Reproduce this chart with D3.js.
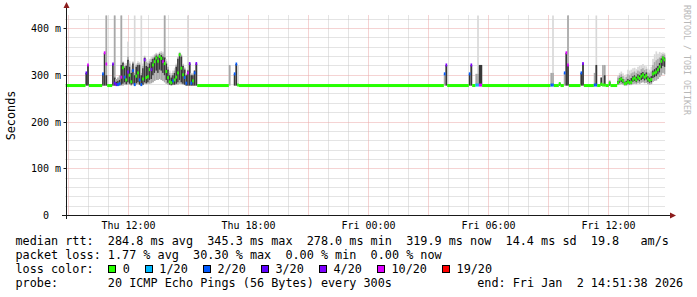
<!DOCTYPE html>
<html>
<head>
<meta charset="utf-8">
<script src="https://cdn.jsdelivr.net/npm/d3@7"></script>
<style>
  body { margin: 0; background: #fff; }
  svg { display: block; }
  text { font-family: "DejaVu Sans Mono", monospace; white-space: pre; }
</style>
</head>
<body>
<svg id="chart" width="697" height="297"></svg>
<script>
// smokeping style latency graph: last 30 hours, 5 minute steps

const endTime = new Date(2026, 0, 2, 14, 51, 38);
const spanHours = 30;
const stepMinutes = 5;

// each run starts at a step index and lasts until the next run
const runStart = [0, 12, 13, 14, 22, 23, 24, 25, 28, 29,
  30, 31, 32, 33, 34, 35, 36, 37, 38, 39,
  40, 41, 42, 43, 44, 45, 46, 47, 48, 49,
  50, 51, 52, 53, 54, 55, 56, 57, 58, 59,
  60, 61, 62, 63, 64, 65, 66, 67, 68, 69,
  70, 71, 72, 73, 74, 75, 76, 77, 78, 79,
  98, 99, 101, 102, 103, 104, 227, 228, 229, 242,
  243, 244, 246, 247, 248, 250, 291, 292, 293, 296,
  297, 299, 300, 301, 302, 309, 310, 311, 317, 318,
  319, 321, 322, 323, 324, 326, 327, 331, 332, 333,
  334, 335, 336, 337, 338, 339, 340, 341, 342, 343,
  344, 345, 346, 347, 348, 349, 350, 351, 352, 353,
  354, 355, 356, 357, 358, 359];

// median rtt in ms
const medianMs = [278, 305, 322, 278, 303, 348, 324, 278, 324, 283,
  280, 280, 282, 296, 316, 296, 290, 307, 300, 286,
  310, 280, 298, 305, 290, 280, 292, 333, 295, 297,
  312, 312, 322, 329, 337, 330, 340, 336, 329, 325,
  308, 295, 286, 284, 288, 290, 296, 305, 344, 315,
  301, 295, 283, 305, 325, 283, 288, 305, 325, 278,
  null, null, 303, 324, 279, 278, 303, 322, 278, 303,
  322, 278, 279, 279, 279, 278, 279, 279, 278, 282,
  278, 305, 348, 322, 278, 305, 325, 278, 279, 279,
  278, 281, 279, 279, 278, 283, 278, 284, 290, 292,
  288, 282, 283, 286, 284, 285, 292, 294, 290, 296,
  293, 298, 301, 296, 299, 292, 289, 291, 303, 305,
  307, 312, 318, 330, 337, 333];

// lost pings out of 20
const lossCount = [0, 3, 10, 0, 2, 10, 10, 0, 4, 3,
  3, 2, 2, 10, 0, 2, 0, 4, 0, 0,
  2, 2, 0, 0, 2, 2, 0, 4, 0, 0,
  0, 4, 0, 0, 0, 0, 0, 0, 10, 0,
  0, 0, 0, 0, 2, 0, 0, 0, 0, 0,
  0, 2, 2, 10, 4, 2, 0, 2, 4, 0,
  0, 0, 2, 2, 0, 0, 2, 4, 0, 2,
  4, 0, 1, 1, 10, 0, 2, 2, 0, 0,
  0, 2, 10, 10, 0, 2, 4, 0, 2, 2,
  0, 0, 0, 0, 0, 0, 0, 0, 0, 0,
  0, 0, 0, 0, 0, 0, 0, 0, 0, 0,
  0, 0, 0, 0, 0, 0, 0, 0, 0, 0,
  0, 0, 0, 0, 0, 0];

// spread of the 20 pings (ms): min, 25th, 75th, 90th percentile, max
const pingMin = [null, 278, 278, null, 278, 278, 278, null, 278, 278,
  277, 277, 277, 278, 278, 280, 279, 280, 280, 278,
  280, 278, 280, 281, 279, 278, 279, 282, 281, 282,
  282, 283, 285, 288, 290, 290, 292, 290, 288, 285,
  282, 280, 279, 278, 279, 279, 280, 280, 282, 281,
  280, 279, 278, 278, 278, 278, 278, 278, 278, null,
  278, null, 278, 278, 278, null, 278, 278, null, 278,
  278, null, 278, 278, 278, null, 278, 278, null, 278,
  null, 278, 278, 278, null, 278, 278, null, 278, 278,
  null, 278, 278, 278, null, 278, null, 279, 280, 281,
  280, 278, 278, 279, 279, 279, 281, 282, 281, 283,
  282, 284, 285, 283, 284, 281, 280, 281, 286, 288,
  289, 292, 296, 300, 305, 302];

const pingLow = [null, 278, 278, null, 278, 278, 278, null, 278, 278,
  278, 278, 279, 280, 282, 285, 281, 285, 282, 280,
  282, 278, 283, 285, 280, 278, 280, 285, 283, 285,
  290, 292, 300, 305, 310, 305, 312, 310, 305, 300,
  290, 284, 280, 279, 280, 280, 282, 285, 290, 285,
  282, 280, 278, 278, 278, 278, 278, 278, 278, null,
  278, null, 278, 278, 278, null, 278, 278, null, 278,
  278, null, 278, 278, 278, null, 278, 278, null, 278,
  null, 278, 278, 278, null, 278, 278, null, 278, 278,
  null, 278, 278, 278, null, 278, null, 281, 284, 286,
  283, 280, 280, 282, 281, 282, 286, 288, 285, 289,
  287, 290, 292, 289, 291, 286, 284, 285, 294, 296,
  298, 302, 306, 315, 320, 318];

const pingHigh = [null, 305, 322, null, 303, 348, 300, null, 324, 295,
  286, 288, 290, 322, 327, 316, 320, 333, 318, 305,
  325, 300, 318, 322, 322, 300, 315, 337, 320, 318,
  325, 328, 335, 338, 342, 340, 345, 343, 340, 338,
  325, 312, 300, 295, 300, 305, 318, 335, 346, 340,
  320, 312, 300, 310, 325, 300, 300, 310, 325, null,
  278, null, 303, 324, 278, null, 278, 322, null, 303,
  322, null, 278, 278, 322, null, 278, 278, null, 283,
  null, 278, 348, 322, null, 305, 325, null, 278, 322,
  null, 295, 278, 300, null, 286, null, 288, 294, 296,
  292, 286, 288, 292, 290, 294, 298, 300, 297, 302,
  300, 305, 307, 303, 306, 298, 295, 298, 310, 313,
  316, 320, 326, 336, 340, 338];

const ping90 = [null, 305, 322, null, 303, 348, 430, null, 324, 430,
  292, 295, 300, 430, 327, 320, 322, 340, 325, 312,
  328, 305, 322, 326, 325, 305, 320, 340, 328, 326,
  330, 335, 338, 342, 346, 344, 348, 348, 346, 430,
  330, 318, 305, 300, 305, 310, 322, 338, 348, 343,
  323, 315, 302, 312, 325, 302, 302, 310, 325, null,
  322, null, 303, 324, 280, null, 303, 322, null, 303,
  322, null, 303, 303, 322, null, 305, 305, null, 285,
  null, 305, 348, 430, null, 305, 325, null, 305, 322,
  null, 295, 322, 322, null, 288, null, 295, 300, 302,
  298, 292, 296, 302, 300, 304, 306, 308, 305, 310,
  308, 313, 315, 311, 313, 306, 304, 308, 322, 328,
  332, 335, 338, 342, 345, 344];

const pingMax = [null, 305, 322, null, 303, 348, 430, null, 324, 430,
  292, 295, 300, 430, 330, 325, 326, 372, 330, 320,
  330, 430, 325, 330, 328, 430, 325, 342, 335, 330,
  335, 340, 342, 345, 348, 346, 350, 352, 350, 430,
  335, 322, 310, 305, 310, 315, 325, 340, 350, 345,
  325, 318, 305, 430, 325, 305, 305, 310, 325, null,
  322, null, 303, 324, 322, null, 303, 322, null, 303,
  322, null, 303, 430, 322, null, 305, 430, null, 285,
  null, 305, 348, 430, null, 305, 325, null, 305, 430,
  null, 295, 322, 322, null, 290, null, 300, 305, 308,
  304, 298, 302, 312, 310, 312, 315, 316, 313, 318,
  320, 322, 324, 320, 319, 314, 312, 318, 335, 345,
  351, 346, 350, 348, 349, 348];

const lossSteps = [0, 1, 2, 3, 4, 10, 19];
const lossLabels = ["0", "1/20", "2/20", "3/20", "4/20", "10/20", "19/20"];
const lossColors = ["#26ff00", "#00b8ff", "#0059ff", "#5e00ff", "#7e00ff", "#dd00ff", "#ff0000"];

const yTicks = [0, 100, 200, 300, 400];
const yTickLabels = ["0  ", "100 m", "200 m", "300 m", "400 m"];

const rttStats = [284.8, 345.3, 278.0, 319.9, 14.4, 19.8]; // avg max min now sd am/s
const lossStats = [1.77, 30.30, 0.00, 0.00];             // avg max min now
const probeText = "20 ICMP Echo Pings (56 Bytes) every 300s";
const vendorText = "RRDTOOL / TOBI OETIKER";

// ---- layout
const svg = d3.select("#chart");
const startTime = d3.timeHour.offset(endTime, -spanHours);
const x = d3.scaleTime().domain([startTime, endTime]).range([65.5, 665.5]);
const y = d3.scaleLinear().domain([0, 400]).range([215.5, 28.5]);
const plotTop = 15.5;
const snap = v => Math.round(v - 0.5) + 0.5;

const minorGrid = "#c8c8c8";
const majorGrid = "#eaa6a6";
const axisColor = "#1a1a1a";
const arrowColor = "#8c1c1c";

const lossColor = n => {
  let c = lossColors[0];
  lossSteps.forEach((s, i) => { if (n >= s) c = lossColors[i]; });
  return c;
};

const totalSteps = spanHours * 60 / stepMinutes;
const runs = runStart.map((s, i) => ({
  t0: d3.timeMinute.offset(startTime, s * stepMinutes),
  t1: d3.timeMinute.offset(startTime, (i + 1 < runStart.length ? runStart[i + 1] : totalSteps) * stepMinutes),
  med: medianMs[i], loss: lossCount[i],
  min: pingMin[i], p25: pingLow[i], p75: pingHigh[i], p90: ping90[i], max: pingMax[i]
}));

svg.append("defs").append("clipPath").attr("id", "plotclip")
  .append("rect")
  .attr("x", x.range()[0]).attr("y", plotTop)
  .attr("width", x.range()[1] - x.range()[0]).attr("height", y(0) - plotTop);

// ---- grid
const grid = svg.append("g");
const hours = x.ticks(d3.timeHour.every(1));
const hLines = d3.range(20, 421, 20);
[false, true].forEach(major => {
  hours.filter(t => (t.getHours() % 3 === 0) === major).forEach(t => {
    grid.append("line")
      .attr("x1", snap(x(t))).attr("x2", snap(x(t)))
      .attr("y1", plotTop).attr("y2", y(0))
      .attr("stroke", major ? majorGrid : minorGrid)
      .attr("stroke-dasharray", "1,1");
  });
  hLines.filter(v => (v % 100 === 0) === major).forEach(v => {
    grid.append("line")
      .attr("x1", x.range()[0]).attr("x2", x.range()[1])
      .attr("y1", snap(y(v))).attr("y2", snap(y(v)))
      .attr("stroke", major ? majorGrid : minorGrid)
      .attr("stroke-dasharray", "1,1");
  });
});

// ---- smoke
const plot = svg.append("g").attr("clip-path", "url(#plotclip)");
const band = (r, lo, hi, colour) => {
  if (lo == null || hi == null || hi <= lo) return;
  plot.append("rect")
    .attr("x", x(r.t0)).attr("width", x(r.t1) - x(r.t0))
    .attr("y", y(hi)).attr("height", y(lo) - y(hi))
    .attr("fill", colour);
};
runs.forEach(r => {
  band(r, r.min, r.max, "#d8d8d8");
  band(r, r.min, r.p90, "#a8a8a8");
  band(r, r.p25, r.p75, "#383838");
});

// ---- median: a short band per step, coloured by loss
runs.filter(r => r.med != null).forEach(r => {
  plot.append("rect")
    .attr("x", x(r.t0)).attr("width", x(r.t1) - x(r.t0))
    .attr("y", y(r.med) - 1.5).attr("height", 3)
    .attr("fill", lossColor(r.loss));
});

// ---- axes
svg.append("line")
  .attr("x1", 62).attr("x2", 670).attr("y1", y(0)).attr("y2", y(0))
  .attr("stroke", axisColor);
svg.append("line")
  .attr("x1", 66.5).attr("x2", 66.5).attr("y1", 219).attr("y2", 7)
  .attr("stroke", axisColor);
svg.append("path").attr("d", "M670,212.5L676,215.5L670,218.5Z").attr("fill", arrowColor);
svg.append("path").attr("d", "M63.5,8L66.5,2L69.5,8Z").attr("fill", arrowColor);

yTicks.forEach((v, i) => {
  if (v > 0) {
    svg.append("line")
      .attr("x1", 63.5).attr("x2", 66.5).attr("y1", snap(y(v))).attr("y2", snap(y(v)))
      .attr("stroke", axisColor);
  }
  svg.append("text")
    .attr("xml:space", "preserve")
    .attr("x", 61).attr("y", snap(y(v)) + 3.5)
    .attr("text-anchor", "end")
    .attr("font-size", "10px").attr("fill", "#000")
    .text(yTickLabels[i]);
});

const dayFmt = d3.timeFormat("%a %H:%M");
x.ticks(d3.timeHour.every(6)).forEach(t => {
  svg.append("text")
    .attr("x", snap(x(t))).attr("y", 229)
    .attr("text-anchor", "middle")
    .attr("font-size", "10px").attr("fill", "#000")
    .text(dayFmt(t));
});

svg.append("text")
  .attr("transform", "translate(15," + ((plotTop + y(0)) / 2) + ") rotate(-90)")
  .attr("text-anchor", "middle")
  .attr("font-size", "11.8px").attr("fill", "#000")
  .text("Seconds");

svg.append("text")
  .attr("transform", "translate(684,5) rotate(90)")
  .attr("font-size", "8.3px").attr("fill", "#b8b8b8")
  .text(vendorText);

// ---- legend
const legendSize = "11.8px";
const legendX = 15.5;
const legendText = (str, lx, ly) => svg.append("text")
  .attr("xml:space", "preserve")
  .attr("x", lx).attr("y", ly)
  .attr("font-size", legendSize).attr("fill", "#000")
  .text(str);

const f1 = d3.format(".1f"), f2 = d3.format(".2f");
legendText("median rtt:  " + f1(rttStats[0]) + " ms avg  " + f1(rttStats[1]) + " ms max  " +
  f1(rttStats[2]) + " ms min  " + f1(rttStats[3]) + " ms now  " + f1(rttStats[4]) + " ms sd  " +
  f1(rttStats[5]) + "   am/s", legendX, 245);
legendText("packet loss: " + f2(lossStats[0]) + " % avg  " + f2(lossStats[1]) + " % max  " +
  f2(lossStats[2]) + " % min  " + f2(lossStats[3]) + " % now", legendX, 259);
const lossTitle = legendText("loss color:", legendX, 273);
const charW = lossTitle.node().getComputedTextLength() / 11;

let bx = legendX + 13 * charW;
lossLabels.forEach((lab, i) => {
  svg.append("rect")
    .attr("x", Math.round(bx) + 0.5).attr("y", 265.5)
    .attr("width", 7).attr("height", 7)
    .attr("fill", lossColors[i]).attr("stroke", "#000");
  const t = legendText(lab, bx + 14.8, 273);
  bx = bx + 14.8 + t.node().getComputedTextLength() + 14.8;
});

const endFmt = d3.timeFormat("%a %b %e %H:%M:%S %Y");
legendText("probe:       " + probeText, legendX, 287);
legendText("end: " + endFmt(endTime), legendX + 65 * charW, 287);
</script>
</body>
</html>
